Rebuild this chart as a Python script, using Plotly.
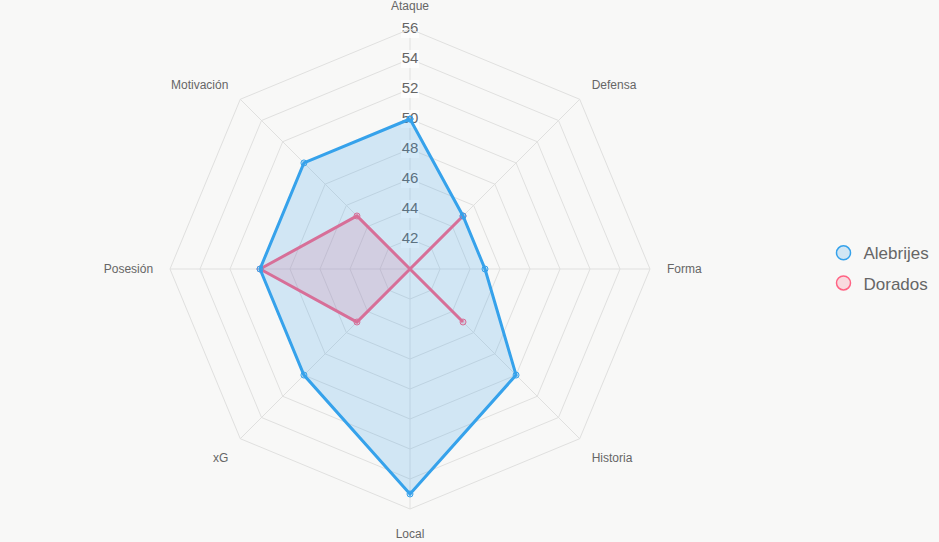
import plotly.graph_objects as go

categories = ["Ataque", "Defensa", "Forma", "Historia", "Local", "xG", "Posesión", "Motivación"]
alebrijes = [50, 45, 45, 50, 55, 50, 50, 50]
dorados = [40, 45, 40, 45, 40, 45, 50, 45]
radial_ticks = [42, 44, 46, 48, 50, 52, 54, 56]

BLUE = "rgb(54,162,235)"
BLUE_FILL = "rgba(54,162,235,0.2)"
PINK = "rgb(255,99,132)"
PINK_FILL = "rgba(255,99,132,0.2)"
BG = "#f8f8f7"
FONT = "Liberation Sans, Arial, sans-serif"

fig = go.Figure()

# radial tick labels centred on the Ataque spoke, with a pale backdrop
fig.add_trace(go.Scatterpolar(
    r=radial_ticks, theta=[categories[0]] * len(radial_ticks),
    mode="markers+text", text=[str(v) for v in radial_ticks],
    textposition="middle center",
    textfont=dict(family=FONT, size=15, color="#666666"),
    marker=dict(symbol="square", size=18, color="rgba(255,255,255,0.75)"),
    showlegend=False, hoverinfo="skip",
))

def closed(vals):
    return list(vals) + [vals[0]]

fig.add_trace(go.Scatterpolar(
    r=closed(dorados), theta=closed(categories),
    mode="lines+markers", fill="toself", fillcolor=PINK_FILL,
    line=dict(color=PINK, width=3),
    marker=dict(size=6, color=PINK_FILL, line=dict(color=PINK, width=1)),
    name="Dorados", showlegend=False,
))
fig.add_trace(go.Scatterpolar(
    r=closed(alebrijes), theta=closed(categories),
    mode="lines+markers", fill="toself", fillcolor=BLUE_FILL,
    line=dict(color=BLUE, width=3),
    marker=dict(size=6, color=BLUE_FILL, line=dict(color=BLUE, width=1)),
    name="Alebrijes", showlegend=False,
))

# legend entries
for name, col, fc in [("Alebrijes", BLUE, BLUE_FILL), ("Dorados", PINK, PINK_FILL)]:
    fig.add_trace(go.Scatterpolar(
        r=[None], theta=[categories[0]], mode="markers", name=name,
        legendgroup=name,
        marker=dict(symbol="circle", size=14, color=fc, line=dict(color=col, width=1.5)),
        showlegend=True,
    ))

fig.update_layout(
    width=939, height=542,
    margin=dict(l=0, r=0, t=0, b=0),
    paper_bgcolor=BG, plot_bgcolor=BG,
    font=dict(family=FONT, color="#666666"),
    polar=dict(
        domain=dict(x=[170 / 939, 650 / 939], y=[1 - 509 / 542, 1 - 29 / 542]),
        bgcolor=BG,
        gridshape="linear",
        radialaxis=dict(
            range=[40, 56], tickvals=radial_ticks, showticklabels=False,
            showline=False, ticks="", gridcolor="#e0e0df", gridwidth=1, angle=90,
        ),
        angularaxis=dict(
            direction="clockwise", rotation=90,
            tickfont=dict(family=FONT, size=12, color="#666666"),
            gridcolor="#e0e0df", linecolor="#e0e0df", linewidth=1,
            ticks="outside", ticklen=14, tickcolor="rgba(0,0,0,0)",
        ),
    ),
    legend=dict(
        x=0.877, xanchor="left", y=0.505, yanchor="middle",
        font=dict(family=FONT, size=17, color="#666666"),
        bgcolor="rgba(0,0,0,0)", tracegroupgap=5,
    ),
    showlegend=True,
)

fig.write_html("out.html")
